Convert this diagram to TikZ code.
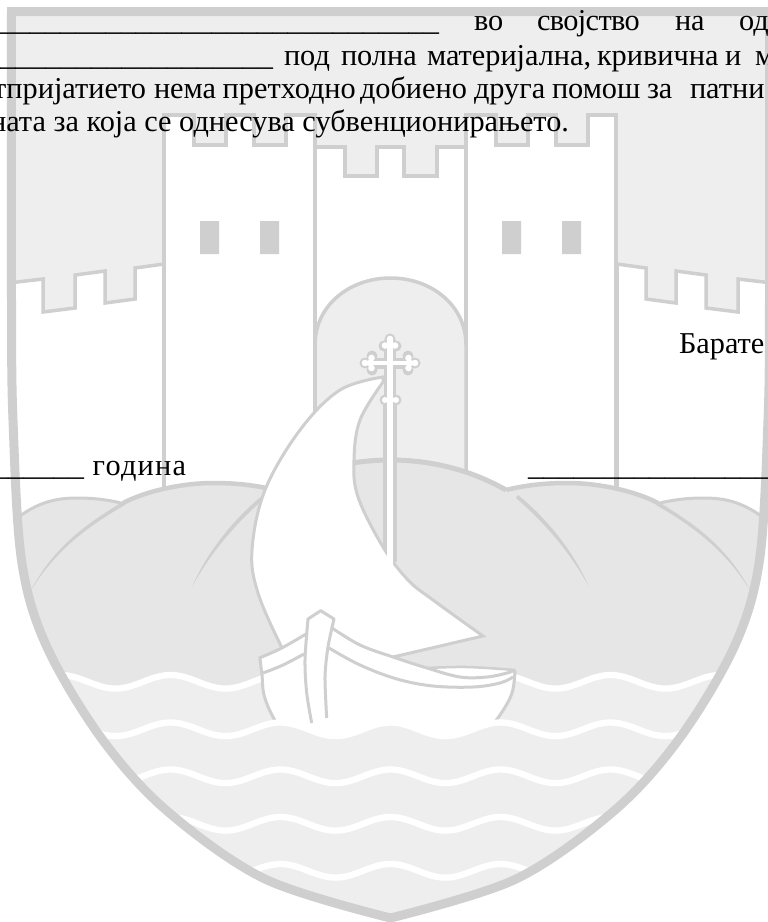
\documentclass[tikz,border=0pt]{standalone}
\usepackage{fontspec}
\setmainfont{Liberation Serif}
\definecolor{edgec}{HTML}{CFCFCF}
\definecolor{skyc}{HTML}{EEEEEE}
\definecolor{hillc}{HTML}{E6E6E6}
\tikzset{
  txt/.style={inner sep=0pt,outer sep=0pt,text=black,font=\fontsize{30.3bp}{33bp}\selectfont},
  wallline/.style={draw=edgec,line width=3.5bp,miter limit=4},
  hillline/.style={draw=edgec,line width=4.5bp},
  boatline/.style={draw=edgec,line width=3bp,line join=round},
  waveline/.style={draw=white,line width=6.3bp}
}
\def\SP{plot[smooth,tension=0.55] coordinates {(11.5,11.5) (11.5,300) (13,420) (21.5,560) (46,645) (100.5,737) (166,810) (265,879) (390.5,918)} -- plot[smooth,tension=0.55] coordinates {(390.5,918) (516,879) (615,810) (680.5,737) (735,645) (759.5,560) (768,420) (769.5,300) (769.5,11.5)} -- cycle}
\begin{document}
\begin{tikzpicture}[x=1bp,y=-1bp]
\clip (0,0) rectangle (768,922);
\useasboundingbox (0,0) rectangle (768,922);
\fill[white] (0,0) rectangle (768,922);
\fill[skyc] \SP;
\begin{scope}
\clip \SP;
% side walls, drawn for the left and mirrored for the right
\foreach \sx/\ox in {1/0,-1/781}{
\begin{scope}[shift={(\ox,0)},xscale=\sx]
  \path[fill=white,wallline] (0,284) -- (43,279) -- (43,312) -- (75,308) -- (75,275) -- (105,271) -- (105,303) -- (135,299) -- (135,268) -- (164,264) -- (164,620) -- (0,620) -- cycle;
\end{scope}}
% towers
\path[fill=white,wallline] (315,147) -- (345,147) -- (345,176) -- (377,176) -- (377,147) -- (404,147) -- (404,176) -- (437,176) -- (437,147) -- (466,147) -- (466,620) -- (315,620) -- cycle;
\path[fill=white,wallline] (164,115) -- (194,115) -- (194,145) -- (226,145) -- (226,115) -- (254,115) -- (254,145) -- (286,145) -- (286,115) -- (315,115) -- (315,620) -- (164,620) -- cycle;
\path[fill=white,wallline] (466,115) -- (496,115) -- (496,145) -- (528,145) -- (528,115) -- (556,115) -- (556,145) -- (588,145) -- (588,115) -- (616,115) -- (616,620) -- (466,620) -- cycle;
\fill[edgec] (200,221) rectangle (219,254) (260,221) rectangle (279,254) (502,221) rectangle (521,254) (562,221) rectangle (581,254);
% arch
\path[fill=skyc,wallline] (315,620) -- (315,345) .. controls (315,305) and (350,278) .. (390.5,278) .. controls (431,278) and (466,305) .. (466,345) -- (466,620) -- cycle;
% hills
\foreach \sx/\ox in {1/0,-1/781}{
\begin{scope}[shift={(\ox,0)},xscale=\sx]
  \path[fill=hillc] (3,530) .. controls (30,505) and (50,498) .. (77,498) .. controls (95,498) and (110,500) .. (128,505) -- (128,730) -- (3,730) -- cycle;
  \path[draw=edgec,line width=3bp] (3,530) .. controls (30,505) and (50,498) .. (77,498) .. controls (95,498) and (110,500) .. (125,504);
  \path[fill=hillc] (32,592) .. controls (55,535) and (125,483) .. (213,483) .. controls (235,483) and (255,485) .. (275,490) -- (275,730) -- (32,730) -- cycle;
  \path[hillline] (123,503) .. controls (148,490) and (185,483) .. (213,483) .. controls (235,483) and (255,485) .. (275,490);
  \fill[edgec] (30,592) .. controls (55,544) and (90,522) .. (124,501) -- (125,505) .. controls (90,525) and (55,550) .. (30,592) -- cycle;
\end{scope}}
\path[fill=hillc] (275,490) .. controls (310,470) and (350,460) .. (390.5,460) .. controls (431,460) and (471,470) .. (506,490) -- (600,730) -- (181,730) -- cycle;
\path[hillline,line width=5bp] (275,490) .. controls (310,470) and (350,460) .. (390.5,460) .. controls (431,460) and (471,470) .. (506,490);
\foreach \sx/\ox in {1/0,-1/781}{
\begin{scope}[shift={(\ox,0)},xscale=\sx]
  \fill[edgec] (192,587) .. controls (208,550) and (235,518) .. (263,495) -- (265,498) .. controls (238,521) and (210,553) .. (192,587) -- cycle;
\end{scope}}
% sail
\path[fill=white,draw=edgec,line width=3bp,line join=miter]
  plot[smooth,tension=0.6] coordinates {(383,377) (340,390) (300,430) (265,490) (252,550) (258,593) (282,648) (300,680)}
  -- (393,657) -- (483,636)
  -- plot[smooth,tension=0.6] coordinates {(483,636) (433,600) (408,580) (383,547) (358,497) (354,460) (360,420) (383,382)} -- cycle;
% mast and cross
\draw[edgec,line width=4bp] (385,397) -- (385,550);
\draw[edgec,line width=4bp] (395,397) -- (395,562);
\draw[white,line width=6bp] (390,397) -- (390,570);
\fill[edgec] (390,339) circle (5.5bp) (384,346) circle (5.5bp) (396,346) circle (5.5bp)
  (365,363) circle (5.5bp) (372,356) circle (5.5bp) (372,370) circle (5.5bp)
  (415,363) circle (5.5bp) (408,356) circle (5.5bp) (408,370) circle (5.5bp)
  (385,400) circle (5.5bp) (396,400) circle (5.5bp);
\draw[edgec,line width=11bp] (368,363) -- (412,363);
\draw[edgec,line width=12bp] (390,340) -- (390,402);
\fill[white] (390,339) circle (3.3bp) (385,345.5) circle (3.3bp) (395,345.5) circle (3.3bp) (390,344) circle (3.3bp)
  (365,363) circle (3.3bp) (371.5,358) circle (3.3bp) (371.5,368) circle (3.3bp) (370,363) circle (3.3bp)
  (415,363) circle (3.3bp) (408.5,358) circle (3.3bp) (408.5,368) circle (3.3bp) (410,363) circle (3.3bp)
  (385,400) circle (3bp) (396,400) circle (3bp);
\draw[white,line width=4.5bp] (366,363) -- (414,363) (385,400) -- (396,400);
\draw[white,line width=6bp] (390,340) -- (390,405);
% water
\fill[skyc] plot[domain=-10:800,samples=300] (\x,{681.8+6.8*cos(3.2727*(\x-335.5))}) -- (800,930) -- (-10,930) -- cycle;
\draw[waveline] plot[domain=-10:800,samples=300] (\x,{681.8+6.8*cos(3.2727*(\x-335.5))});
% boat
\fill[white] plot[smooth,tension=0.6] coordinates {(258.7,658.3) (281.7,648) (306,634)} -- (308,619) -- (320.7,610.7) -- (334,619) -- plot[smooth,tension=0.6] coordinates {(332,628) (360,645) (393,657) (427,668)} -- plot[smooth,tension=0.6] coordinates {(427,668) (467,667) (515,670)} -- plot[smooth,tension=0.6] coordinates {(515,670) (512,693) (500,715) (485,734)} -- (485,745) -- (286,745) -- plot[smooth,tension=0.6] coordinates {(286,733) (272,717) (263,693) (260,660)} -- cycle;
\draw[boatline] (260,659) -- plot[smooth,tension=0.6] coordinates {(260,659) (262,675) (264,695) (273,717) (288,740)};
\draw[boatline] plot[smooth,tension=0.6] coordinates {(515,670) (512,693) (500,715) (483,736)};
\draw[boatline] plot[smooth,tension=0.6] coordinates {(258.7,658.3) (281.7,648) (306,634)};
\draw[boatline] plot[smooth,tension=0.6] coordinates {(263,673) (283,665) (304,654)};
\draw[boatline] plot[smooth,tension=0.6] coordinates {(332,628) (360,645) (393,657) (427,668) (460,677) (487,677) (507,673) (515,670)};
\draw[boatline] plot[smooth,tension=0.6] coordinates {(329,648) (360,665) (397,679) (433,686) (473,687) (500,683) (513,677)};
\draw[boatline,line width=2.5bp] plot[smooth,tension=0.6] coordinates {(427,668) (467,667) (515,670)};
\draw[boatline] plot[smooth,tension=0.5] coordinates {(311.7,723) (306.7,693) (305,660) (308,619)} -- (320.7,610.7) -- (334,619) -- plot[smooth,tension=0.5] coordinates {(334,619) (328,647) (325,677) (326.7,718)};
% lower water
\fill[skyc] plot[domain=-10:800,samples=300] (\x,{729.3+6.8*cos(3.2727*(\x-335.5))}) -- (800,930) -- (-10,930) -- cycle;
\foreach \yy in {729.3,776.3,823.8,870.8}{
  \draw[waveline] plot[domain=-10:800,samples=300] (\x,{\yy+6.8*cos(3.2727*(\x-335.5))});
}
\end{scope}
% shield border
\draw[edgec,line width=9bp,miter limit=10] \SP;
% text
\node[txt,anchor=base east] (u1) at (439,30) {\_\_\_\_\_\_\_\_\_\_\_\_\_\_\_\_\_\_\_\_\_\_\_\_\_\_\_\_\_\_};
\node[txt,anchor=base west] (w1) at (474,30) {во};
\node[txt,anchor=base west] (w2) at (537,30) {\addfontfeature{LetterSpace=-2}својство};
\node[txt,anchor=base west] (w3) at (675,30) {на};
\node[txt,anchor=base west] (w4) at (739,30) {од};
\node[txt,anchor=base east] (u2) at (273,65) {\_\_\_\_\_\_\_\_\_\_\_\_\_\_\_\_\_\_\_};
\node[txt,anchor=base west] (v1) at (284,65) {под};
\node[txt,anchor=base west] (v2) at (341,65) {полна};
\node[txt,anchor=base west] (v3) at (427,65) {материјална,};
\node[txt,anchor=base west] (v4) at (597,65) {кривична};
\node[txt,anchor=base west] (v5) at (725,65) {и};
\node[txt,anchor=base west] (v6) at (755,65) {м};
\node[txt,anchor=base east] (l3a) at (146,98) {тпријатието};
\node[txt,anchor=base west] (l3b) at (154,98) {нема};
\node[txt,anchor=base west] (l3c) at (222.7,98) {претходно};
\node[txt,anchor=base west] (l3d) at (360,98) {добиено};
\node[txt,anchor=base west] (l3e) at (474,98) {друга};
\node[txt,anchor=base west] (l3f) at (552,98) {помош};
\node[txt,anchor=base west] (l3g) at (647,98) {за};
\node[txt,anchor=base west] (l3h) at (690,98) {патни};
\node[txt,anchor=base east] (l4) at (569,131.5) {ината за која се однесува субвенционирањето.};
\node[txt,anchor=base west] (b1) at (679,353) {Барате};
\node[txt,anchor=base east] (u3) at (84,475) {\_\_\_\_\_\_};
\node[txt,anchor=base west] (g1) at (92.7,475) {\addfontfeature{LetterSpace=4}година};
\node[txt,anchor=base west] (u4) at (528,475) {\_\_\_\_\_\_\_\_\_\_\_\_\_\_\_\_};
\end{tikzpicture}
\end{document}
